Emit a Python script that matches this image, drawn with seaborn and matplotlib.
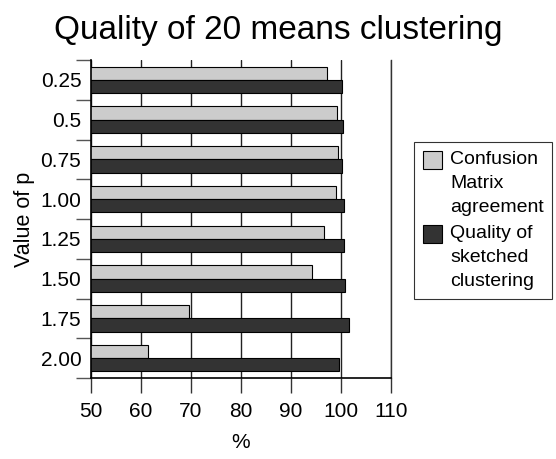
import matplotlib
matplotlib.use('Agg')
import matplotlib.pyplot as plt
import seaborn as sns
import pandas as pd

p_values = ['0.25', '0.5', '0.75', '1.00', '1.25', '1.50', '1.75', '2.00']
confusion_agreement = [97.1, 99.1, 99.3, 99.0, 96.6, 94.2, 69.5, 61.4]
sketched_quality = [100.2, 100.3, 100.2, 100.5, 100.6, 100.7, 101.5, 99.5]
series_names = ['Confusion\nMatrix\nagreement', 'Quality of\nsketched\nclustering']

df = pd.DataFrame({
    'p': p_values * 2,
    'value': confusion_agreement + sketched_quality,
    'series': [series_names[0]] * len(p_values) + [series_names[1]] * len(p_values),
})

sns.set_style('white')
plt.rcParams['font.family'] = ['Liberation Sans', 'DejaVu Sans']
plt.rcParams['text.color'] = 'black'

fig = plt.figure(figsize=(5.56, 4.59), dpi=100)
ax = fig.add_axes([91 / 556, 1 - 378 / 459, 300 / 556, 318 / 459])

sns.barplot(data=df, y='p', x='value', hue='series', orient='h',
            palette=['#cccccc', '#333333'], edgecolor='black', linewidth=0.8,
            width=0.67, ax=ax)

ax.set_xlim(50, 110)
ax.set_xticks(range(50, 111, 10))
ax.xaxis.grid(True, color='#222222', linewidth=1.0)
ax.set_axisbelow(True)
ax.yaxis.grid(False)
ax.spines['top'].set_visible(False)
ax.spines['right'].set_color('#333333')
ax.spines['right'].set_linewidth(1.0)
for s in ['left', 'bottom']:
    ax.spines[s].set_color('black')
    ax.spines[s].set_linewidth(1.2)

# ticks on y sit between groups
n = len(p_values)
ax.set_yticks(list(range(n)))
ax.set_yticklabels(p_values)
ax.tick_params(axis='y', length=0, labelsize=15, pad=7, labelcolor='black')
ax.set_yticks([i + 0.5 for i in range(-1, n)], minor=True)
ax.tick_params(axis='y', which='minor', length=11, width=1, color='#555555',
               direction='out', left=True)
ax.tick_params(axis='x', length=11, width=1, color='#333333', direction='out',
               bottom=True, labelsize=15, pad=6, labelcolor='black')

ax.set_xlabel('%', fontsize=15, labelpad=9, color='black')
ax.set_ylabel('Value of p', fontsize=15.5, labelpad=4, color='black')
fig.suptitle('Quality of 20 means clustering', fontsize=24, x=0.5,
             y=1 - 30 / 459, va='center', color='black')

leg = ax.legend(loc='upper left', bbox_to_anchor=(414 / 556, 1 - 142 / 459),
                bbox_transform=fig.transFigure, borderaxespad=0,
                frameon=True, fancybox=False, edgecolor='black', fontsize=14,
                handlelength=1.0, handleheight=1.05, handletextpad=0.4,
                borderpad=0.45, labelspacing=0.45)
leg.get_frame().set_linewidth(0.8)
for t in leg.get_texts():
    t.set_multialignment('left')
    t.set_linespacing(1.55)
    t.set_color('black')
for col in leg._legend_handle_box.get_children():
    for item in col.get_children():
        item.align = 'top'

fig.savefig('out.png', dpi=100)
